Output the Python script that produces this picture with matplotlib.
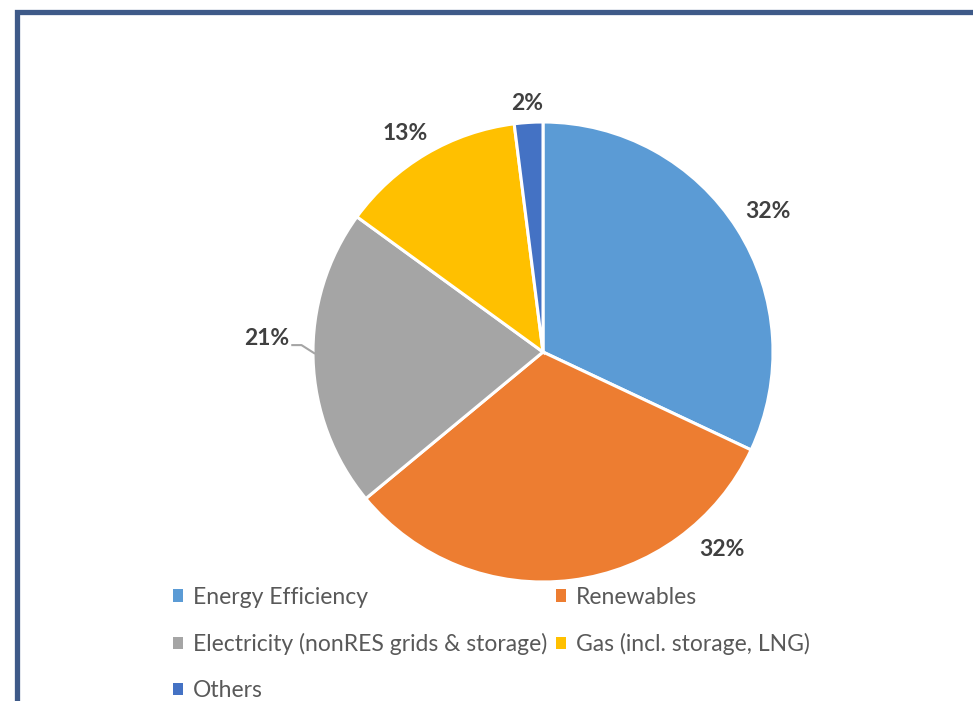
import matplotlib
matplotlib.use("Agg")
import matplotlib.pyplot as plt
from matplotlib.patches import Rectangle, Patch
import numpy as np

plt.rcParams['font.family'] = ['Lato', 'DejaVu Sans']

# data
categories = ["Energy Efficiency", "Renewables", "Electricity (nonRES grids & storage)",
              "Gas (incl. storage, LNG)", "Others"]
shares = [32, 32, 21, 13, 2]
labels = ["32%", "32%", "21%", "13%", "2%"]
colors = ["#5B9BD5", "#ED7D31", "#A5A5A5", "#FFC000", "#4472C4"]

# label positions (x, y) in pie units, picked to match the original layout
label_pos = [(0.98, 0.61), (0.78, -0.86), (-1.20, 0.06), (-0.60, 0.95), (-0.07, 1.08)]

W, H = 973, 701
fig = plt.figure(figsize=(W / 100, H / 100), dpi=100)
fig.patch.set_facecolor("white")

# outer frame (cut off at right and bottom)
fig.add_artist(Rectangle((16.5 / W, -0.05), 1.1, 1 - 11.5 / H + 0.05,
                         transform=fig.transFigure, fill=False,
                         edgecolor="#3E5A88", linewidth=3.8))

cx, cy, r = 543, 352, 230
ax = fig.add_axes([(cx - r) / W, (H - cy - r) / H, 2 * r / W, 2 * r / H])
wedges, _ = ax.pie(shares, colors=colors, startangle=90, counterclock=False,
                   radius=1, wedgeprops=dict(edgecolor="white", linewidth=2.2))
ax.set_xlim(-1, 1)
ax.set_ylim(-1, 1)
ax.set_aspect("equal")
ax.axis("off")

for lab, (x, y) in zip(labels, label_pos):
    ax.text(x, y, lab, ha="center", va="center", fontsize=16.5,
            fontweight="bold", color="#404040", clip_on=False)

# leader line for the 21% label
ax.plot([-1.09, -1.05, -0.995], [0.03, 0.03, -0.005], color="#A5A5A5",
        lw=1.5, clip_on=False)

order = [0, 2, 4, 1, 3]
handles = [Patch(facecolor=colors[i], edgecolor="none") for i in order]
leg = fig.legend(handles, [categories[i] for i in order], ncol=2,
                 loc="upper left", bbox_to_anchor=(152 / W, 1 - 566 / H),
                 frameon=False, fontsize=16.5, handlelength=0.45, handleheight=0.45,
                 handletextpad=0.45, columnspacing=0.35, labelspacing=1.1)
for t in leg.get_texts():
    t.set_color("#595959")

fig.savefig("out.png", dpi=100, facecolor="white")
